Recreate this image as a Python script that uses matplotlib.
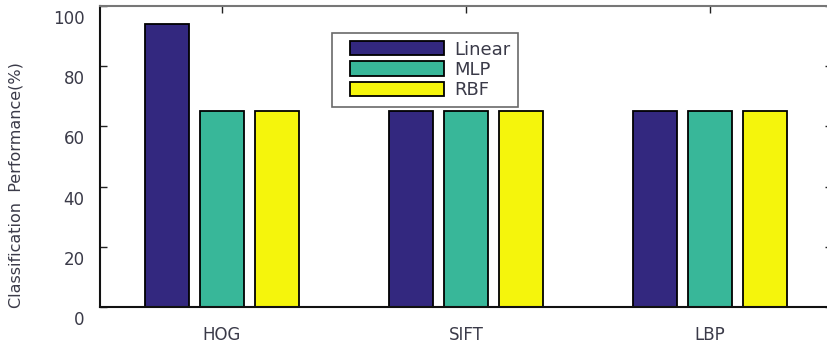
import numpy as np
import matplotlib
matplotlib.use("Agg")
import matplotlib.pyplot as plt
from matplotlib.transforms import ScaledTranslation
from matplotlib.patches import Rectangle
from matplotlib.legend_handler import HandlerPatch
from matplotlib.container import BarContainer

features = ["HOG", "SIFT", "LBP"]
classifiers = ["Linear", "MLP", "RBF"]
linear = [94, 65, 65]
mlp = [65, 65, 65]
rbf = [65, 65, 65]
yticks = [0, 20, 40, 60, 80, 100]

colors = ["#33287f", "#38b799", "#f5f50c"]
text_color = "#3a3a48"

plt.rcParams["font.family"] = ["DejaVu Sans"]

fig = plt.figure(figsize=(8.28, 3.45), dpi=100)
ax = fig.add_axes([100 / 828, 38 / 345, 732 / 828, 301 / 345])

x = np.arange(1, len(features) + 1)
step = 0.224
width = 0.18
for i, (vals, name) in enumerate(zip([linear, mlp, rbf], classifiers)):
    ax.bar(x + (i - 1) * step, vals, width, color=colors[i], edgecolor="black",
           linewidth=1.3, label=name, zorder=2)

ax.set_xlim(0.5, 3.5)
ax.set_ylim(0, 100)
ax.set_xticks(x)
ax.set_xticklabels(features)
ax.set_yticks(yticks)

ax.tick_params(axis="both", direction="in", length=5, width=1, colors="#222222",
               labelcolor=text_color, labelsize=12)
ax.tick_params(axis="y", right=True, pad=11)
ax.tick_params(axis="x", top=True, pad=14)

shift = ScaledTranslation(0, -11 / 100, fig.dpi_scale_trans)
for lbl in ax.get_yticklabels():
    lbl.set_transform(lbl.get_transform() + shift)

for side in ["left", "bottom"]:
    ax.spines[side].set_color("#111111")
    ax.spines[side].set_linewidth(1.5)
ax.spines["top"].set_color("#777777")
ax.spines["top"].set_linewidth(1.5)
ax.spines["right"].set_color("#777777")

ax.set_ylabel("Classification  Performance(%)", fontsize=11.5, color=text_color)
ax.yaxis.set_label_coords(-0.104, 0.405)


def offset_patch(legend, orig_handle, xdescent, ydescent, width, height, fontsize):
    off = 10 * 72 / 100
    return Rectangle((-xdescent + off, -ydescent), width - off, height)


def copy_style(legend_patch, container):
    legend_patch.update_from(container.patches[0])


fs = 13
leg = ax.legend(loc="upper left", bbox_to_anchor=(332 / 828, 1 - 33 / 345),
                bbox_transform=fig.transFigure, fontsize=fs,
                handlelength=5.76, handleheight=0.83, labelspacing=0.12,
                handletextpad=0.6, borderpad=0.42, borderaxespad=0,
                fancybox=False, frameon=True, edgecolor="#444444",
                handler_map={BarContainer: HandlerPatch(patch_func=offset_patch,
                                                        update_func=copy_style)})
leg.get_frame().set_linewidth(1.2)
for t in leg.get_texts():
    t.set_color(text_color)

fig.savefig("out.png", dpi=100)
